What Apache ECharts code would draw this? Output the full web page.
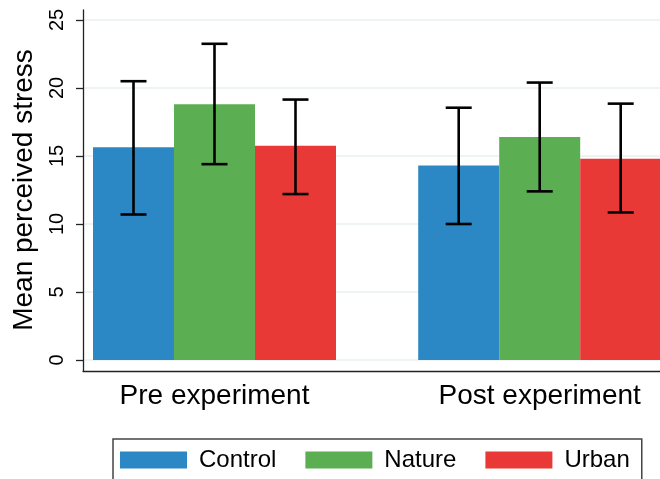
<!DOCTYPE html>
<html>
<head>
    <meta http-equiv="Content-Type" content="text/html; charset=UTF-8" />
    <script src="https://cdn.jsdelivr.net/npm/echarts@6/dist/echarts.min.js"></script>
    <style>
        html, body { margin: 0; padding: 0; background: #fff; }
    </style>
</head>
<body>
    <div id="chart-stress" style="width:660px;height:479px"></div>

    <script type="text/javascript">
        // data
        var categories = ['Pre experiment', 'Post experiment'];
        var groups = ['Control', 'Nature', 'Urban'];
        var controlMean = [15.65, 14.3];
        var natureMean = [18.8, 16.4];
        var urbanMean = [15.75, 14.8];
        var controlLow = [10.7, 10.0];
        var controlHigh = [20.5, 18.55];
        var natureLow = [14.4, 12.4];
        var natureHigh = [23.25, 20.4];
        var urbanLow = [12.2, 10.85];
        var urbanHigh = [19.15, 18.85];
        var yTicks = [0, 5, 10, 15, 20, 25];

        var colors = ['#2c88c4', '#5cae52', '#e93937'];
        var font = 'Liberation Sans, Arial, sans-serif';
        var barW = 81;

        var lows = [controlLow, natureLow, urbanLow];
        var highs = [controlHigh, natureHigh, urbanHigh];
        var errData = [];
        for (var k = 0; k < groups.length; k++) {
            for (var i = 0; i < categories.length; i++) {
                errData.push([i, lows[k][i], highs[k][i], k]);
            }
        }

        var chart = echarts.init(document.getElementById('chart-stress'));

        var option = {
            animation: false,
            color: colors,
            textStyle: { fontFamily: font },
            grid: [
                // frame (axis lines)
                { left: 83, right: 0, top: 10, bottom: 108, outerBoundsMode: 'none', containLabel: false },
                // y scale, ticks, grid lines
                { left: 83, right: 0, top: 20, bottom: 119, outerBoundsMode: 'none', containLabel: false },
                // bars
                { left: 51.9, width: 650.4, top: 20, bottom: 119, outerBoundsMode: 'none', containLabel: false }
            ],
            xAxis: [{
                gridIndex: 0, type: 'value', min: 0, max: 1,
                axisLine: { show: true, onZero: false, lineStyle: { color: '#222', width: 1.3 } },
                axisTick: { show: false }, axisLabel: { show: false }, splitLine: { show: false }
            }, {
                gridIndex: 1, type: 'value', min: 0, max: 1, show: false
            }, {
                gridIndex: 2, type: 'category', data: categories,
                axisLine: { show: false }, axisTick: { show: false },
                axisLabel: { fontSize: 28, color: '#000', margin: 22, fontFamily: font }
            }],
            yAxis: [{
                gridIndex: 0, type: 'value', min: 0, max: 1,
                axisLine: { show: true, onZero: false, lineStyle: { color: '#222', width: 1.3 } },
                axisTick: { show: false }, axisLabel: { show: false }, splitLine: { show: false }
            }, {
                gridIndex: 1, type: 'value', min: yTicks[0], max: yTicks[yTicks.length - 1], interval: 5,
                name: 'Mean perceived stress', nameLocation: 'middle', nameRotate: 90, nameGap: 45,
                nameTextStyle: { fontSize: 28, color: '#000', fontFamily: font },
                axisLine: { show: false },
                axisTick: { show: true, length: 7, lineStyle: { color: '#222', width: 1.3 } },
                axisLabel: { rotate: 90, fontSize: 20, color: '#000', margin: 16, fontFamily: font },
                splitLine: { show: true, lineStyle: { color: '#e8eff1', width: 1.5 } }
            }, {
                gridIndex: 2, type: 'value', min: 0, max: 25, show: false
            }],
            legend: {
                data: groups,
                left: 113, top: 439,
                icon: 'rect',
                itemWidth: 67, itemHeight: 17, itemGap: 29,
                borderColor: '#444', borderWidth: 1.5,
                padding: [9, 12, 9, 7],
                textStyle: { fontSize: 24, color: '#000', fontFamily: font, padding: [0, 0, 0, 7] }
            },
            series: [{
                name: 'Control', type: 'bar', xAxisIndex: 2, yAxisIndex: 2,
                barWidth: barW, barGap: '0%', data: controlMean
            }, {
                name: 'Nature', type: 'bar', xAxisIndex: 2, yAxisIndex: 2,
                barWidth: barW, barGap: '0%', data: natureMean
            }, {
                name: 'Urban', type: 'bar', xAxisIndex: 2, yAxisIndex: 2,
                barWidth: barW, barGap: '0%', data: urbanMean
            }, {
                name: 'ci', type: 'custom', xAxisIndex: 2, yAxisIndex: 2, z: 10,
                encode: { x: 0, y: [1, 2] },
                data: errData,
                renderItem: function (params, api) {
                    var cat = api.value(0);
                    var x = api.coord([cat, 0])[0] + (api.value(3) - 1) * barW;
                    var yLo = api.coord([cat, api.value(1)])[1];
                    var yHi = api.coord([cat, api.value(2)])[1];
                    var half = 13;
                    var st = { stroke: '#000', lineWidth: 2.6 };
                    return {
                        type: 'group',
                        children: [
                            { type: 'line', shape: { x1: x, y1: yLo, x2: x, y2: yHi }, style: st },
                            { type: 'line', shape: { x1: x - half, y1: yHi, x2: x + half, y2: yHi }, style: st },
                            { type: 'line', shape: { x1: x - half, y1: yLo, x2: x + half, y2: yLo }, style: st }
                        ]
                    };
                }
            }]
        };

        chart.setOption(option);
    </script>
</body>
</html>
